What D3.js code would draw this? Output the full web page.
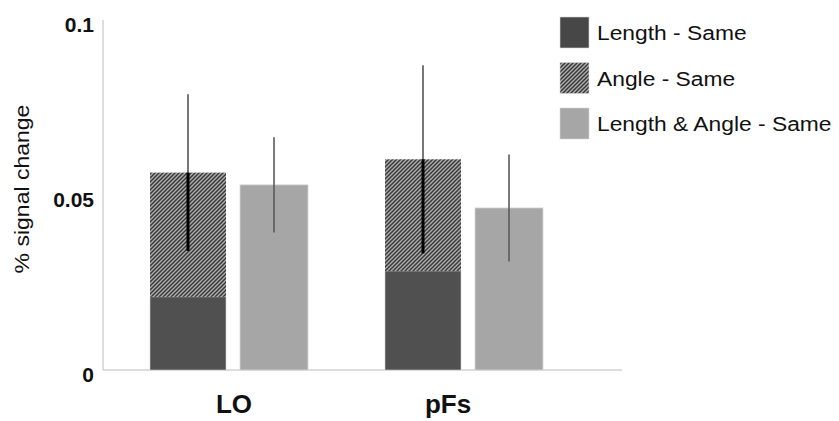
<!DOCTYPE html>
<html>
<head>
<meta charset="utf-8">
<script src="https://cdn.jsdelivr.net/npm/d3@7"></script>
<style>
  html, body { margin: 0; padding: 0; background: #fff; }
  svg { display: block; font-family: "Liberation Sans", Arial, sans-serif; }
</style>
</head>
<body>
<svg id="chart" width="839" height="421"></svg>
<script>
// ---- data ----
const categories = ["LO", "pFs"];
const seriesNames = ["Length - Same", "Angle - Same", "Length & Angle - Same"];
const lengthSame = [0.0209, 0.0283];        // dark bottom segment
const angleSame = [0.0355, 0.0319];         // hatched segment stacked on top
const stackErr = [0.0224, 0.0269];          // +/- error on stacked total
const lengthAngleSame = [0.0529, 0.0463];   // light bar
const lengthAngleErr = [0.0136, 0.0153];    // +/- error on light bar
const yTicks = [0, 0.05, 0.1];
const yTickLabels = ["0", "0.05", "0.1"];
const yTitle = "% signal change";

// ---- layout ----
const svg = d3.select("#chart");
const y = d3.scaleLinear().domain([0, 0.1]).range([370, 20]);
const x = d3.scaleBand().domain(categories).range([150, 620]).paddingInner(0).paddingOuter(0);
const labelX = d3.scalePoint().domain(categories).range([234, 448]);
const stackW = 76, lightW = 68, lightOff = 90;

const C_DARK = "#505050", C_LIGHT = "#a6a6a6", C_AXIS = "#d2d2d2";

// hatch pattern
const defs = svg.append("defs");
const pat = defs.append("pattern")
  .attr("id", "hatch").attr("patternUnits", "userSpaceOnUse")
  .attr("width", 4).attr("height", 4);
pat.append("rect").attr("width", 4).attr("height", 4).attr("fill", "#b0b0b0");
pat.append("path").attr("d", "M-1,1 L1,-1 M0,4 L4,0 M3,5 L5,3")
  .attr("stroke", "#383838").attr("stroke-width", 1.5);

// axes
svg.append("line").attr("x1", 103).attr("x2", 103).attr("y1", y(0)).attr("y2", y(0.1))
  .attr("stroke", C_AXIS).attr("stroke-width", 1.5);
svg.append("line").attr("x1", 103).attr("x2", 622).attr("y1", y(0)).attr("y2", y(0))
  .attr("stroke", C_AXIS).attr("stroke-width", 1.5);

svg.append("g").selectAll("text").data(yTicks).join("text")
  .attr("x", 94).attr("y", d => y(d) + 4)
  .attr("text-anchor", "end").attr("dominant-baseline", "central")
  .attr("font-size", 21).attr("font-weight", "bold").attr("fill", "#111")
  .text((d, i) => yTickLabels[i]);

function stretch(sel, f) {
  sel.each(function () {
    const L = this.getComputedTextLength();
    d3.select(this).attr("textLength", L * f).attr("lengthAdjust", "spacingAndGlyphs");
  });
}

svg.append("text")
  .attr("transform", "translate(22,189) rotate(-90)")
  .attr("text-anchor", "middle").attr("dominant-baseline", "central")
  .attr("font-size", 20).attr("fill", "#111")
  .text(yTitle).call(stretch, 1.15);

// category labels
svg.append("g").selectAll("text").data(categories).join("text")
  .attr("x", d => labelX(d)).attr("y", 404)
  .attr("text-anchor", "middle").attr("dominant-baseline", "central")
  .attr("font-size", 26).attr("font-weight", "bold").attr("fill", "#111")
  .text(d => d);

// bars
const g = svg.append("g");
categories.forEach((c, i) => {
  const x0 = x(c);
  g.append("rect").attr("x", x0).attr("width", stackW)
    .attr("y", y(lengthSame[i])).attr("height", y(0) - y(lengthSame[i]))
    .attr("fill", C_DARK).attr("stroke", "#cfcfcf").attr("stroke-width", 0.6);
  const top = lengthSame[i] + angleSame[i];
  g.append("rect").attr("x", x0).attr("width", stackW)
    .attr("y", y(top)).attr("height", y(lengthSame[i]) - y(top))
    .attr("fill", "url(#hatch)");
  g.append("rect").attr("x", x0 + lightOff).attr("width", lightW)
    .attr("y", y(lengthAngleSame[i])).attr("height", y(0) - y(lengthAngleSame[i]))
    .attr("fill", C_LIGHT).attr("stroke", "#d8d8d8").attr("stroke-width", 0.8);

  const cx = x0 + stackW / 2;
  g.append("line").attr("x1", cx).attr("x2", cx)
    .attr("y1", y(top + stackErr[i])).attr("y2", y(top - stackErr[i]))
    .attr("stroke", "#555").attr("stroke-width", 1.6);
  g.append("line").attr("x1", cx).attr("x2", cx)
    .attr("y1", y(top)).attr("y2", y(top - stackErr[i]))
    .attr("stroke", "#000").attr("stroke-width", 3);
  const lx = x0 + lightOff + lightW / 2;
  g.append("line").attr("x1", lx).attr("x2", lx)
    .attr("y1", y(lengthAngleSame[i] + lengthAngleErr[i])).attr("y2", y(lengthAngleSame[i] - lengthAngleErr[i]))
    .attr("stroke", "#5a5a5a").attr("stroke-width", 1.6);
});

// legend
const legFills = ["#474747", "url(#hatch)", C_LIGHT];
const leg = svg.append("g");
const ly = d3.scalePoint().domain(seriesNames).range([17, 108]);
leg.selectAll("rect").data(seriesNames).join("rect")
  .attr("x", 560).attr("y", d => ly(d)).attr("width", 29).attr("height", 31)
  .attr("fill", (d, i) => legFills[i]).attr("stroke", "#d8d8d8").attr("stroke-width", 0.6);
leg.selectAll("text").data(seriesNames).join("text")
  .attr("x", 597).attr("y", d => ly(d) + 16)
  .attr("dominant-baseline", "central")
  .attr("font-size", 20).attr("fill", "#111")
  .text(d => d).call(stretch, 1.14);
</script>
</body>
</html>
